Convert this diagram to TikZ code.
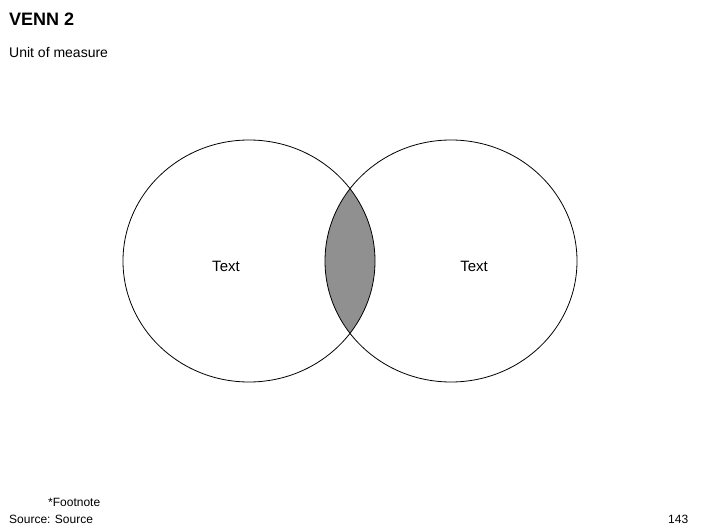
\documentclass[tikz,border=0pt]{standalone}
\usepackage{fontspec}
\setmainfont{Liberation Sans}
\begin{document}
\begin{tikzpicture}[x=1pt,y=-1pt,
  lbl/.style={inner sep=0pt,anchor=west},
  circ/.style={draw=black,line width=0.8pt}]
\useasboundingbox (0,0) rectangle (706,529);
\begin{scope}
  \clip (249,261) ellipse [x radius=126, y radius=121];
  \fill[fill={rgb,255:red,144;green,144;blue,144}] (451,261) ellipse [x radius=126, y radius=121];
\end{scope}
\draw[circ] (249,261) ellipse [x radius=126, y radius=121];
\draw[circ] (451,261) ellipse [x radius=126, y radius=121];
\node (t1) at (226,266) {\fontsize{15pt}{17pt}\selectfont Text};
\node (t2) at (474,266) {\fontsize{15pt}{17pt}\selectfont Text};
\node[lbl] (title) at (9,19) {\fontsize{18pt}{20pt}\selectfont\bfseries VENN 2};
\node[lbl] (unit) at (9,52) {\fontsize{14pt}{16pt}\selectfont Unit of measure};
\node[lbl] (foot) at (48,502) {\fontsize{12pt}{14pt}\selectfont *Footnote};
\node[lbl] (src) at (9,519) {\fontsize{12pt}{14pt}\selectfont Source: Source};
\node[lbl] (pg) at (668,519) {\fontsize{12pt}{14pt}\selectfont 143};
\end{tikzpicture}
\end{document}
